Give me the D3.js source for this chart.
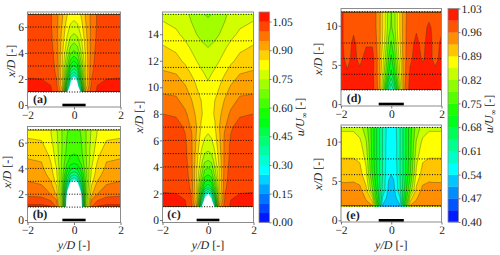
<!DOCTYPE html>
<html><head><meta charset="utf-8">
<script src="https://cdn.jsdelivr.net/npm/d3@7"></script>
<style>
html,body{margin:0;padding:0;background:#fff}
svg{display:block;text-rendering:geometricPrecision}
text{font-family:"Liberation Serif",serif;fill:#222}
</style></head><body><svg id="c" width="500" height="255"></svg>
<script>
// ---------- data: u/U_inf on (x/D row, y/D column) grids ----------
const wakeCols = [-2,-1.4,-1,-0.75,-0.5,-0.3,-0.15,0,0.15,0.3,0.5,0.75,1,1.4,2];
const aRows = [1,1.5,2,2.5,3,3.5,4,4.5,5,5.5,6,6.5,7];
const aValues = [
[1.06,1.055,1.055,1.03,.92,.33,.1,.05,.1,.33,.92,1.03,1.055,1.055,1.06],
[1.055,1.055,1.05,1.01,.86,.46,.28,.15,.28,.46,.86,1.01,1.05,1.055,1.055],
[1.052,1.05,1.04,1.0,.86,.56,.33,.26,.33,.56,.86,1.0,1.04,1.05,1.052],
[1.04,1.04,1.03,.99,.85,.62,.44,.39,.44,.62,.85,.99,1.03,1.04,1.04],
[1.035,1.035,1.025,.985,.85,.67,.53,.49,.53,.67,.85,.985,1.025,1.035,1.035],
[1.03,1.03,1.02,.98,.855,.71,.6,.565,.6,.71,.855,.98,1.02,1.03,1.03],
[1.03,1.03,1.02,.975,.86,.74,.655,.63,.655,.74,.86,.975,1.02,1.03,1.03],
[1.03,1.03,1.015,.97,.87,.77,.7,.68,.7,.77,.87,.97,1.015,1.03,1.03],
[1.03,1.03,1.01,.97,.875,.79,.735,.715,.735,.79,.875,.97,1.01,1.03,1.03],
[1.03,1.03,1.01,.965,.885,.81,.765,.75,.765,.81,.885,.965,1.01,1.03,1.03],
[1.03,1.03,1.005,.965,.89,.825,.79,.775,.79,.825,.89,.965,1.005,1.03,1.03],
[1.03,1.03,1.005,.965,.9,.84,.81,.8,.81,.84,.9,.965,1.005,1.03,1.03],
[1.03,1.03,1.005,.965,.905,.855,.83,.82,.83,.855,.905,.965,1.005,1.03,1.03]];
const aStations = [1,2,3,4,5,6,7];

const bRows = [1,1.5,2,2.5,3,3.5,4,4.5,5,5.5,6,6.5,7];
const bValues = [
[1.07,1.07,1.06,1.0,.68,.2,.06,.05,.06,.2,.68,1.0,1.06,1.07,1.07],
[1.02,1.02,1.0,.96,.68,.22,.1,.08,.1,.22,.68,.96,1.0,1.02,1.02],
[.99,.985,.95,.89,.66,.27,.14,.12,.14,.27,.66,.89,.95,.985,.99],
[.97,.96,.93,.86,.66,.36,.22,.2,.22,.36,.66,.86,.93,.96,.97],
[.95,.94,.9,.83,.66,.45,.31,.28,.31,.45,.66,.83,.9,.94,.95],
[.935,.925,.88,.81,.67,.52,.43,.4,.43,.52,.67,.81,.88,.925,.935],
[.92,.91,.865,.8,.68,.57,.515,.5,.515,.57,.68,.8,.865,.91,.92],
[.905,.9,.85,.785,.685,.61,.575,.565,.575,.61,.685,.785,.85,.9,.905],
[.895,.885,.84,.775,.69,.63,.6,.595,.6,.63,.69,.775,.84,.885,.895],
[.875,.87,.825,.77,.695,.64,.62,.615,.62,.64,.695,.77,.825,.87,.875],
[.86,.855,.815,.765,.695,.645,.63,.625,.63,.645,.695,.765,.815,.855,.86],
[.845,.84,.805,.76,.695,.65,.635,.63,.635,.65,.695,.76,.805,.84,.845],
[.835,.83,.8,.755,.695,.655,.64,.635,.64,.655,.695,.755,.8,.83,.835]];
const bStations = [1,2,3,4,5,6,7];

const cRows = [1,1.5,2,2.5,3,3.5,4,4.5,5,5.5,6,6.5,7,8,9,10,10.5,11,12,13,14,15,15.5];
const cValues = [
[1.06,1.055,1.055,1.03,.92,.34,.1,.05,.1,.34,.92,1.03,1.055,1.055,1.06],
[1.055,1.055,1.05,1.01,.86,.46,.28,.15,.28,.46,.86,1.01,1.05,1.055,1.055],
[1.052,1.05,1.04,1.0,.86,.56,.35,.3,.35,.56,.86,1.0,1.04,1.05,1.052],
[1.04,1.04,1.03,.99,.85,.63,.5,.47,.5,.63,.85,.99,1.03,1.04,1.04],
[1.035,1.035,1.025,.985,.85,.68,.57,.55,.57,.68,.85,.985,1.025,1.035,1.035],
[1.03,1.03,1.02,.98,.855,.72,.63,.61,.63,.72,.855,.98,1.02,1.03,1.03],
[1.03,1.03,1.02,.975,.86,.75,.67,.655,.67,.75,.86,.975,1.02,1.03,1.03],
[1.03,1.03,1.015,.97,.87,.775,.715,.7,.715,.775,.87,.97,1.015,1.03,1.03],
[1.03,1.03,1.01,.97,.875,.795,.75,.74,.75,.795,.875,.97,1.01,1.03,1.03],
[1.03,1.03,1.01,.965,.885,.81,.775,.765,.775,.81,.885,.965,1.01,1.03,1.03],
[1.025,1.025,1.005,.965,.89,.825,.795,.785,.795,.825,.89,.965,1.005,1.025,1.025],
[1.02,1.02,1.0,.96,.895,.835,.81,.8,.81,.835,.895,.96,1.0,1.02,1.02],
[1.015,1.015,.995,.945,.9,.845,.825,.815,.825,.845,.9,.945,.995,1.015,1.015],
[1.0,.995,.96,.925,.89,.855,.84,.835,.84,.855,.89,.925,.96,.995,1.0],
[.965,.96,.93,.905,.875,.85,.84,.835,.84,.85,.875,.905,.93,.96,.965],
[.935,.93,.905,.88,.85,.83,.82,.81,.82,.83,.85,.88,.905,.93,.935],
[.92,.915,.89,.865,.84,.82,.805,.8,.805,.82,.84,.865,.89,.915,.92],
[.91,.9,.875,.85,.825,.81,.8,.79,.8,.81,.825,.85,.875,.9,.91],
[.875,.865,.84,.82,.8,.785,.775,.77,.775,.785,.8,.82,.84,.865,.875],
[.855,.84,.815,.795,.775,.76,.755,.75,.755,.76,.775,.795,.815,.84,.855],
[.83,.81,.785,.77,.75,.74,.735,.73,.735,.74,.75,.77,.785,.81,.83],
[.8,.785,.77,.75,.735,.72,.71,.705,.71,.72,.735,.75,.77,.785,.8],
[.79,.775,.76,.745,.73,.715,.7,.695,.7,.715,.73,.745,.76,.775,.79]];
const cStations = [1,2,3,4,5,6,7,9.5,10.5,11.5,13.5,15.5];

const dCols = [-2,-1.75,-1.5,-1.25,-1,-0.75,-0.5,-0.35,-0.2,-0.1,0,0.1,0.2,0.35,0.5,0.75,1,1.25,1.5,1.75,2];
const dRows = [1.8,3.8,5.8,7.8,9.8,11.8];
const dValues = [
[1.01,1.01,1.01,1.01,1.01,1.01,.95,.83,.7,.62,.57,.62,.7,.83,.95,1.01,1.01,1.01,1.01,1.01,1.01],
[1.01,1.0,1.01,1.005,1.01,1.005,.945,.86,.77,.71,.67,.71,.77,.86,.945,1.0,1.01,1.005,1.01,1.005,1.01],
[1.005,.985,1.005,.985,1.01,1.01,.945,.875,.8,.745,.705,.745,.8,.875,.945,.99,1.005,.992,1.005,.985,1.005],
[1.0,.985,1.0,.985,.99,.99,.945,.89,.825,.775,.745,.775,.825,.89,.945,.988,1.0,.988,1.005,.985,1.0],
[1.0,.985,.99,.985,.985,.98,.945,.895,.84,.8,.78,.8,.84,.895,.945,.985,.992,.985,1.0,.985,.99],
[1.0,.985,.985,.985,.985,.98,.945,.895,.84,.8,.785,.8,.84,.895,.945,.98,.985,.985,.985,.985,.985]];
const dStations = [1.8,3.8,5.8,7.8,11.8];

const eCols = [-2,-1.75,-1.5,-1.25,-1,-0.75,-0.5,-0.35,-0.2,-0.1,0,0.1,0.2,0.35,0.5,0.75,1,1.25,1.5,1.75,2];
const eRows = [1.8,3.8,5.8,7.8,9.8,11.8];
const eValues = [
[.95,.95,.955,.955,.94,.93,.69,.535,.525,.515,.51,.515,.525,.535,.69,.93,.94,.955,.955,.95,.95],
[.94,.94,.94,.935,.9,.79,.67,.605,.555,.53,.52,.53,.555,.605,.67,.79,.9,.935,.94,.94,.94],
[.91,.91,.912,.905,.865,.745,.655,.61,.565,.545,.54,.545,.565,.61,.655,.745,.865,.905,.912,.91,.91],
[.891,.891,.891,.885,.845,.735,.655,.61,.57,.55,.545,.55,.57,.61,.655,.735,.845,.885,.891,.891,.891],
[.87,.87,.87,.865,.825,.735,.655,.61,.57,.555,.55,.555,.57,.61,.655,.735,.825,.865,.87,.87,.87],
[.85,.85,.85,.835,.8,.735,.655,.61,.575,.56,.555,.56,.575,.61,.655,.735,.8,.835,.85,.85,.85]];
const eStations = [1.8,3.8,5.8,7.8,11.8];

const leftFloor = 0.3;
const leftLevels = d3.range(23).map(i => +(i*0.05).toFixed(3));     // 0.00 .. 1.10
const rightLevels = d3.range(19).map(i => +(0.4+i*0.035).toFixed(3)); // 0.40 .. 1.03
const leftTicks = [0,0.15,0.30,0.45,0.60,0.75,0.90,1.05];
const rightTicks = [0.40,0.47,0.54,0.61,0.68,0.75,0.82,0.89,0.96,1.03];

// ---------- drawing ----------
const svg = d3.select("#c");
const frameCol = "#8c8c8c";
const ramp = d3.scaleLinear().domain([0,.25,.5,.75,1])
  .range(["#0000ff","#00ffff","#00ff00","#ffff00","#ff0000"]);
function bandColor(levels, i){ return ramp((i+.5)/(levels.length-1)); }
let clipN = 0;

function panel(p){
  const x = d3.scaleLinear().domain([-2,2]).range([p.l,p.r]);
  const y = d3.scaleLinear().domain([0,1]).range([p.y0,p.y0-p.unit]);
  const g = svg.append("g");
  const n = p.cols.length, m = p.rows.length;
  const colOf = d3.scaleLinear().domain(d3.range(n)).range(p.cols).clamp(true);
  const rowOf = d3.scaleLinear().domain(d3.range(m)).range(p.rows).clamp(true);
  const proj = d3.geoTransform({point(a,b){ this.stream.point(x(colOf(a-.5)), y(rowOf(b-.5))); }});
  const path = d3.geoPath(proj);
  const thresholds = p.levels.slice(0,-1).filter(v => v >= p.floor);
  const flat = p.values.flat();
  const polys = d3.contours().size([n,m]).smooth(true).thresholds(thresholds)(flat);
  g.append("rect").attr("x",p.l).attr("y",p.t).attr("width",p.r-p.l).attr("height",p.b-p.t).attr("fill","#fff");
  g.selectAll("path.f").data(polys).join("path").attr("class","f")
    .attr("d",path)
    .attr("fill",d => bandColor(p.levels,p.levels.indexOf(d.value)));
  const id = "clip"+(clipN++);
  const top = y(p.rows[m-1]), bot = y(p.rows[0]);
  svg.append("clipPath").attr("id",id).append("rect")
    .attr("x",p.l+.6).attr("width",p.r-p.l-1.2).attr("y",top+.6).attr("height",bot-top-1.2);
  g.append("g").attr("clip-path",`url(#${id})`).selectAll("path")
    .data(polys.slice(1)).join("path").attr("d",path)
    .attr("fill","none").attr("stroke","#3a3a1a").attr("stroke-opacity",.6).attr("stroke-width",.6);
  // measurement stations
  g.selectAll("line.s").data(p.stations).join("line").attr("class","s")
    .attr("x1",p.l).attr("x2",p.r).attr("y1",d=>y(d)).attr("y2",d=>y(d))
    .attr("stroke","#000").attr("stroke-width",1).attr("stroke-dasharray","1 1.6");
  // frame
  g.append("rect").attr("x",p.l).attr("y",p.t).attr("width",p.r-p.l).attr("height",p.b-p.t)
    .attr("fill","none").attr("stroke",frameCol).attr("stroke-width",1);
  // axes
  const fmt = d => d<0 ? "\u2212"+(-d) : ""+d;
  const ax = g.append("g").attr("transform",`translate(0,${p.b})`)
    .call(d3.axisBottom(x).tickValues([-2,0,2]).tickFormat(fmt).tickSize(2.5).tickPadding(1.3));
  const ay = g.append("g").attr("transform",`translate(${p.l},0)`)
    .call(d3.axisLeft(y).tickValues(p.yTicks).tickFormat(fmt).tickSize(2.5).tickPadding(1));
  [ax,ay].forEach(a=>{
    a.select(".domain").remove();
    a.selectAll("line").attr("stroke","#555").attr("stroke-width",.8);
    a.selectAll("text").attr("font-size",11.5).attr("fill","#222").style("font-family",'"Liberation Serif",serif');
  });
  // disc
  g.append("line").attr("x1",x(-.5)).attr("x2",x(.5)).attr("y1",y(0)).attr("y2",y(0))
    .attr("stroke","#000").attr("stroke-width",2.6);
  // panel tag
  g.append("text").attr("x",p.tag[0]).attr("y",p.tag[1]).attr("text-anchor","middle")
    .attr("font-size",12).attr("font-weight","bold").text(p.name);
  rotated(g,p.ylab[0],p.ylab[1],"x/D");
  if(p.xlab){
    const t = g.append("text").attr("x",(p.l+p.r)/2).attr("y",p.xlab).attr("text-anchor","middle").attr("font-size",12);
    t.append("tspan").attr("font-style","italic").text("y/D");
    t.append("tspan").text(" [-]");
  }
}
function rotated(g,px,py,s){
  const t = g.append("text").attr("transform",`translate(${px},${py}) rotate(-90)`)
    .attr("text-anchor","middle").attr("font-size",12);
  t.append("tspan").attr("font-style","italic").text(s);
  t.append("tspan").text(" [-]");
}
function colorbar(c){
  const s = d3.scaleLinear().domain([c.levels[0],c.levels[c.levels.length-1]]).range([c.b,c.t]);
  const g = svg.append("g");
  g.selectAll("rect.b").data(c.levels.slice(0,-1)).join("rect").attr("class","b")
    .attr("x",c.l).attr("width",c.r-c.l)
    .attr("y",(d,i)=>s(c.levels[i+1])).attr("height",(d,i)=>s(c.levels[i])-s(c.levels[i+1])+.3)
    .attr("fill",(d,i)=>bandColor(c.levels,i));
  g.append("rect").attr("x",c.l).attr("y",c.t).attr("width",c.r-c.l).attr("height",c.b-c.t)
    .attr("fill","none").attr("stroke",frameCol).attr("stroke-width",.8);
  const a = g.append("g").attr("transform",`translate(${c.r},0)`)
    .call(d3.axisRight(s).tickValues(c.ticks).tickFormat(d3.format(".2f")).tickSize(2).tickPadding(1));
  a.select(".domain").remove();
  a.selectAll("line").attr("stroke","#555").attr("stroke-width",.8);
  a.selectAll("text").attr("font-size",11.5).attr("fill","#222").style("font-family",'"Liberation Serif",serif');
  const t = g.append("text").attr("transform",`translate(${c.lab[0]},${c.lab[1]}) rotate(-90)`)
    .attr("text-anchor","middle").attr("font-size",12);
  t.append("tspan").attr("font-style","italic").text("u/U");
  t.append("tspan").attr("font-size",8).attr("dy",3).text("\u221e");
  t.append("tspan").attr("dy",-3).text(" [-]");
}

panel({name:"(a)",cols:wakeCols,rows:aRows,values:aValues,stations:aStations,levels:leftLevels,floor:leftFloor,
  l:27.5,r:120.5,t:12,b:107,y0:105,unit:13,yTicks:[0,2,4,6],tag:[40,103],ylab:[15,61]});
panel({name:"(b)",cols:wakeCols,rows:bRows,values:bValues,stations:bStations,levels:leftLevels,floor:leftFloor,
  l:27.5,r:120.5,t:126.5,b:222.5,y0:220,unit:12.9,yTicks:[0,2,4,6],tag:[40,218],ylab:[11,172],xlab:248.5});
panel({name:"(c)",cols:wakeCols,rows:cRows,values:cValues,stations:cStations,levels:leftLevels,floor:leftFloor,
  l:162.5,r:253.5,t:12,b:222.5,y0:220,unit:13.27,yTicks:[0,2,4,6,8,10,12,14],tag:[174,218],ylab:[143,117],xlab:248.5});
panel({name:"(d)",cols:dCols,rows:dRows,values:dValues,stations:dStations,levels:rightLevels,floor:0.4,
  l:341,r:441.5,t:8.5,b:106,y0:104,unit:7.82,yTicks:[0,5,10],tag:[354,102],ylab:[322,59]});
panel({name:"(e)",cols:eCols,rows:eRows,values:eValues,stations:eStations,levels:rightLevels,floor:0.4,
  l:341,r:441.5,t:125,b:222,y0:220.3,unit:7.87,yTicks:[0,5,10],tag:[353,219],ylab:[322,174],xlab:248.5});
colorbar({levels:leftLevels,ticks:leftTicks,l:259,r:269.5,t:12,b:222.3,lab:[304,117]});
colorbar({levels:rightLevels,ticks:rightTicks,l:448,r:458.5,t:8.5,b:222,lab:[493,114]});
</script></body></html>
